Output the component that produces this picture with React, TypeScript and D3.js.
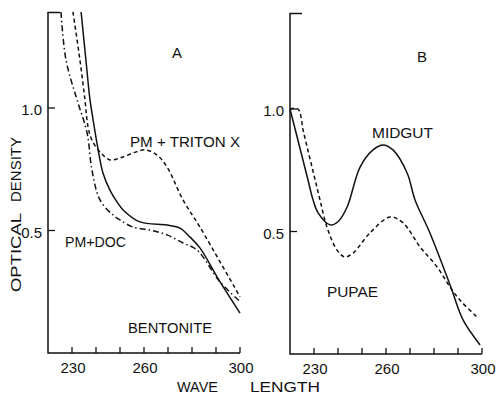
import * as d3 from 'd3';
import React from 'react';

// wavelength (nm) / optical density
const tritonNm = [230.4, 233.3, 235.4, 236.7, 238.3, 241.7, 245.8, 250, 255.4, 260.4, 265.4, 269.6, 276.3, 283.3, 300];
const tritonOD = [1.392, 1.196, 1.033, 0.922, 0.869, 0.82, 0.788, 0.796, 0.816, 0.829, 0.808, 0.759, 0.624, 0.514, 0.229];

const docNm = [225.4, 227.5, 232.1, 236.3, 238.3, 241.7, 247.1, 250, 255.4, 262.5, 269.6, 276.3, 282.1, 291.7, 300];
const docOD = [1.392, 1.196, 1.033, 0.898, 0.747, 0.624, 0.563, 0.543, 0.514, 0.502, 0.482, 0.449, 0.42, 0.29, 0.21];

const bentNm = [233.8, 235.8, 237.5, 238.8, 240.4, 242.9, 245.8, 248.8, 251.3, 258.3, 269.6, 275, 279.2, 283.3, 291.7, 300];
const bentOD = [1.392, 1.196, 1.033, 0.951, 0.857, 0.735, 0.665, 0.616, 0.584, 0.535, 0.522, 0.51, 0.473, 0.429, 0.29, 0.163];

const midgutNm = [220, 222.5, 225, 227.5, 229.6, 231.7, 236.7, 240, 243.8, 249.2, 254.6, 258.8, 262.9, 268.8, 272.1, 278.3, 286.7, 292.1, 299.2];
const midgutOD = [1.0, 0.904, 0.807, 0.71, 0.629, 0.576, 0.527, 0.54, 0.6, 0.763, 0.833, 0.853, 0.833, 0.739, 0.629, 0.494, 0.282, 0.139, 0.037];

const pupaeNm = [220, 223.3, 225.6, 228, 230.3, 232.5, 235.4, 239.6, 242.9, 246.3, 253.3, 261.7, 267.1, 274.2, 281.3, 286.7, 290.8, 297.9];
const pupaeOD = [1.0, 1.0, 0.907, 0.81, 0.718, 0.629, 0.518, 0.424, 0.396, 0.412, 0.494, 0.559, 0.535, 0.437, 0.355, 0.273, 0.22, 0.151];

const xTicks = [230, 240, 250, 260, 270, 280, 290, 300];
const xTickLabels = [230, 260, 300];
const yTickLabels = [1.0, 0.5];

const font = '"Liberation Sans", Arial, sans-serif';
const DASH = '4,3';
const DASHDOT = '6,3,1.5,3';

const zip = (xs: number[], ys: number[]) => xs.map((x, i) => [x, ys[i]] as [number, number]);

const Panel = ({ left, y0, y1, series, letter, labels }: any) => {
  const x = d3.scaleLinear().domain([220, 300]).range([left, left + 192]);
  const y = d3.scaleLinear().domain([0, 1]).range([y0, y1]);
  const line = d3.line<[number, number]>()
    .x(d => x(d[0]))
    .y(d => y(d[1]))
    .curve(d3.curveCatmullRom.alpha(0.5));
  const top = y(1.39);
  return (
    <g>
      <path d={`M${x(220) + 12},${top}H${x(220)}V${y(0)}H${x(300)}`} fill="none" stroke="#111" strokeWidth={1.5} />
      {xTicks.map(t => (
        <line key={t} x1={x(t)} x2={x(t)} y1={y(0)} y2={y(0) - 6} stroke="#111" strokeWidth={1.3} />
      ))}
      {xTickLabels.map(t => (
        <text key={t} x={x(t) + 1} y={y(0) + 20} textAnchor="middle" fontSize={15} fontFamily={font} fill="#111">{t}</text>
      ))}
      {yTickLabels.map(t => (
        <g key={t}>
          <line x1={x(220)} x2={x(220) + 7} y1={y(t)} y2={y(t)} stroke="#111" strokeWidth={1.3} />
          <text x={x(220) - 6} y={y(t) + 7} textAnchor="end" fontSize={15} fontFamily={font} fill="#111">{t.toFixed(1)}</text>
        </g>
      ))}
      {series.map((s: any, i: number) => (
        <path key={i} d={line(zip(s.nm, s.od)) || ''} fill="none" stroke="#111" strokeWidth={1.5} strokeDasharray={s.dash} />
      ))}
      <text x={letter.x} y={letter.y} textAnchor="middle" fontSize={15} fontFamily={font} fill="#111">{letter.t}</text>
      {labels.map((l: any) => (
        <text key={l.t} x={l.x} y={l.y} fontSize={15} fontFamily={font} fill="#111" textLength={l.w} lengthAdjust="spacingAndGlyphs">{l.t}</text>
      ))}
    </g>
  );
};

export default function App() {
  return (
    <svg width={496} height={395} style={{ position: 'absolute', left: 0, top: 0, background: '#fff' }}>
      <rect width={496} height={395} fill="#fff" />
      <Panel
        left={48} y0={353} y1={108}
        series={[
          { nm: tritonNm, od: tritonOD, dash: DASH },
          { nm: docNm, od: docOD, dash: DASHDOT },
          { nm: bentNm, od: bentOD, dash: null },
        ]}
        letter={{ t: 'A', x: 177, y: 58 }}
        labels={[
          { t: 'PM + TRITON  X', x: 130, y: 147, w: 110 },
          { t: 'PM+DOC', x: 65, y: 247, w: 61 },
          { t: 'BENTONITE', x: 128, y: 333, w: 84 },
        ]}
      />
      <Panel
        left={290} y0={354} y1={109}
        series={[
          { nm: midgutNm, od: midgutOD, dash: null },
          { nm: pupaeNm, od: pupaeOD, dash: DASH },
        ]}
        letter={{ t: 'B', x: 422, y: 62 }}
        labels={[
          { t: 'MIDGUT', x: 372, y: 138, w: 61 },
          { t: 'PUPAE', x: 327, y: 297, w: 51 },
        ]}
      />
      <text x={177} y={392} fontSize={15} fontFamily={font} fill="#111" textLength={41} lengthAdjust="spacingAndGlyphs">WAVE</text>
      <text x={250} y={392} fontSize={15} fontFamily={font} fill="#111" textLength={70} lengthAdjust="spacingAndGlyphs">LENGTH</text>
      <text transform="translate(21,292) rotate(-90)" fontSize={15} fontFamily={font} fill="#111" textLength={79} lengthAdjust="spacingAndGlyphs">OPTICAL</text>
      <text transform="translate(21,202) rotate(-90)" fontSize={15} fontFamily={font} fill="#111" textLength={65} lengthAdjust="spacingAndGlyphs">DENSITY</text>
    </svg>
  );
}
